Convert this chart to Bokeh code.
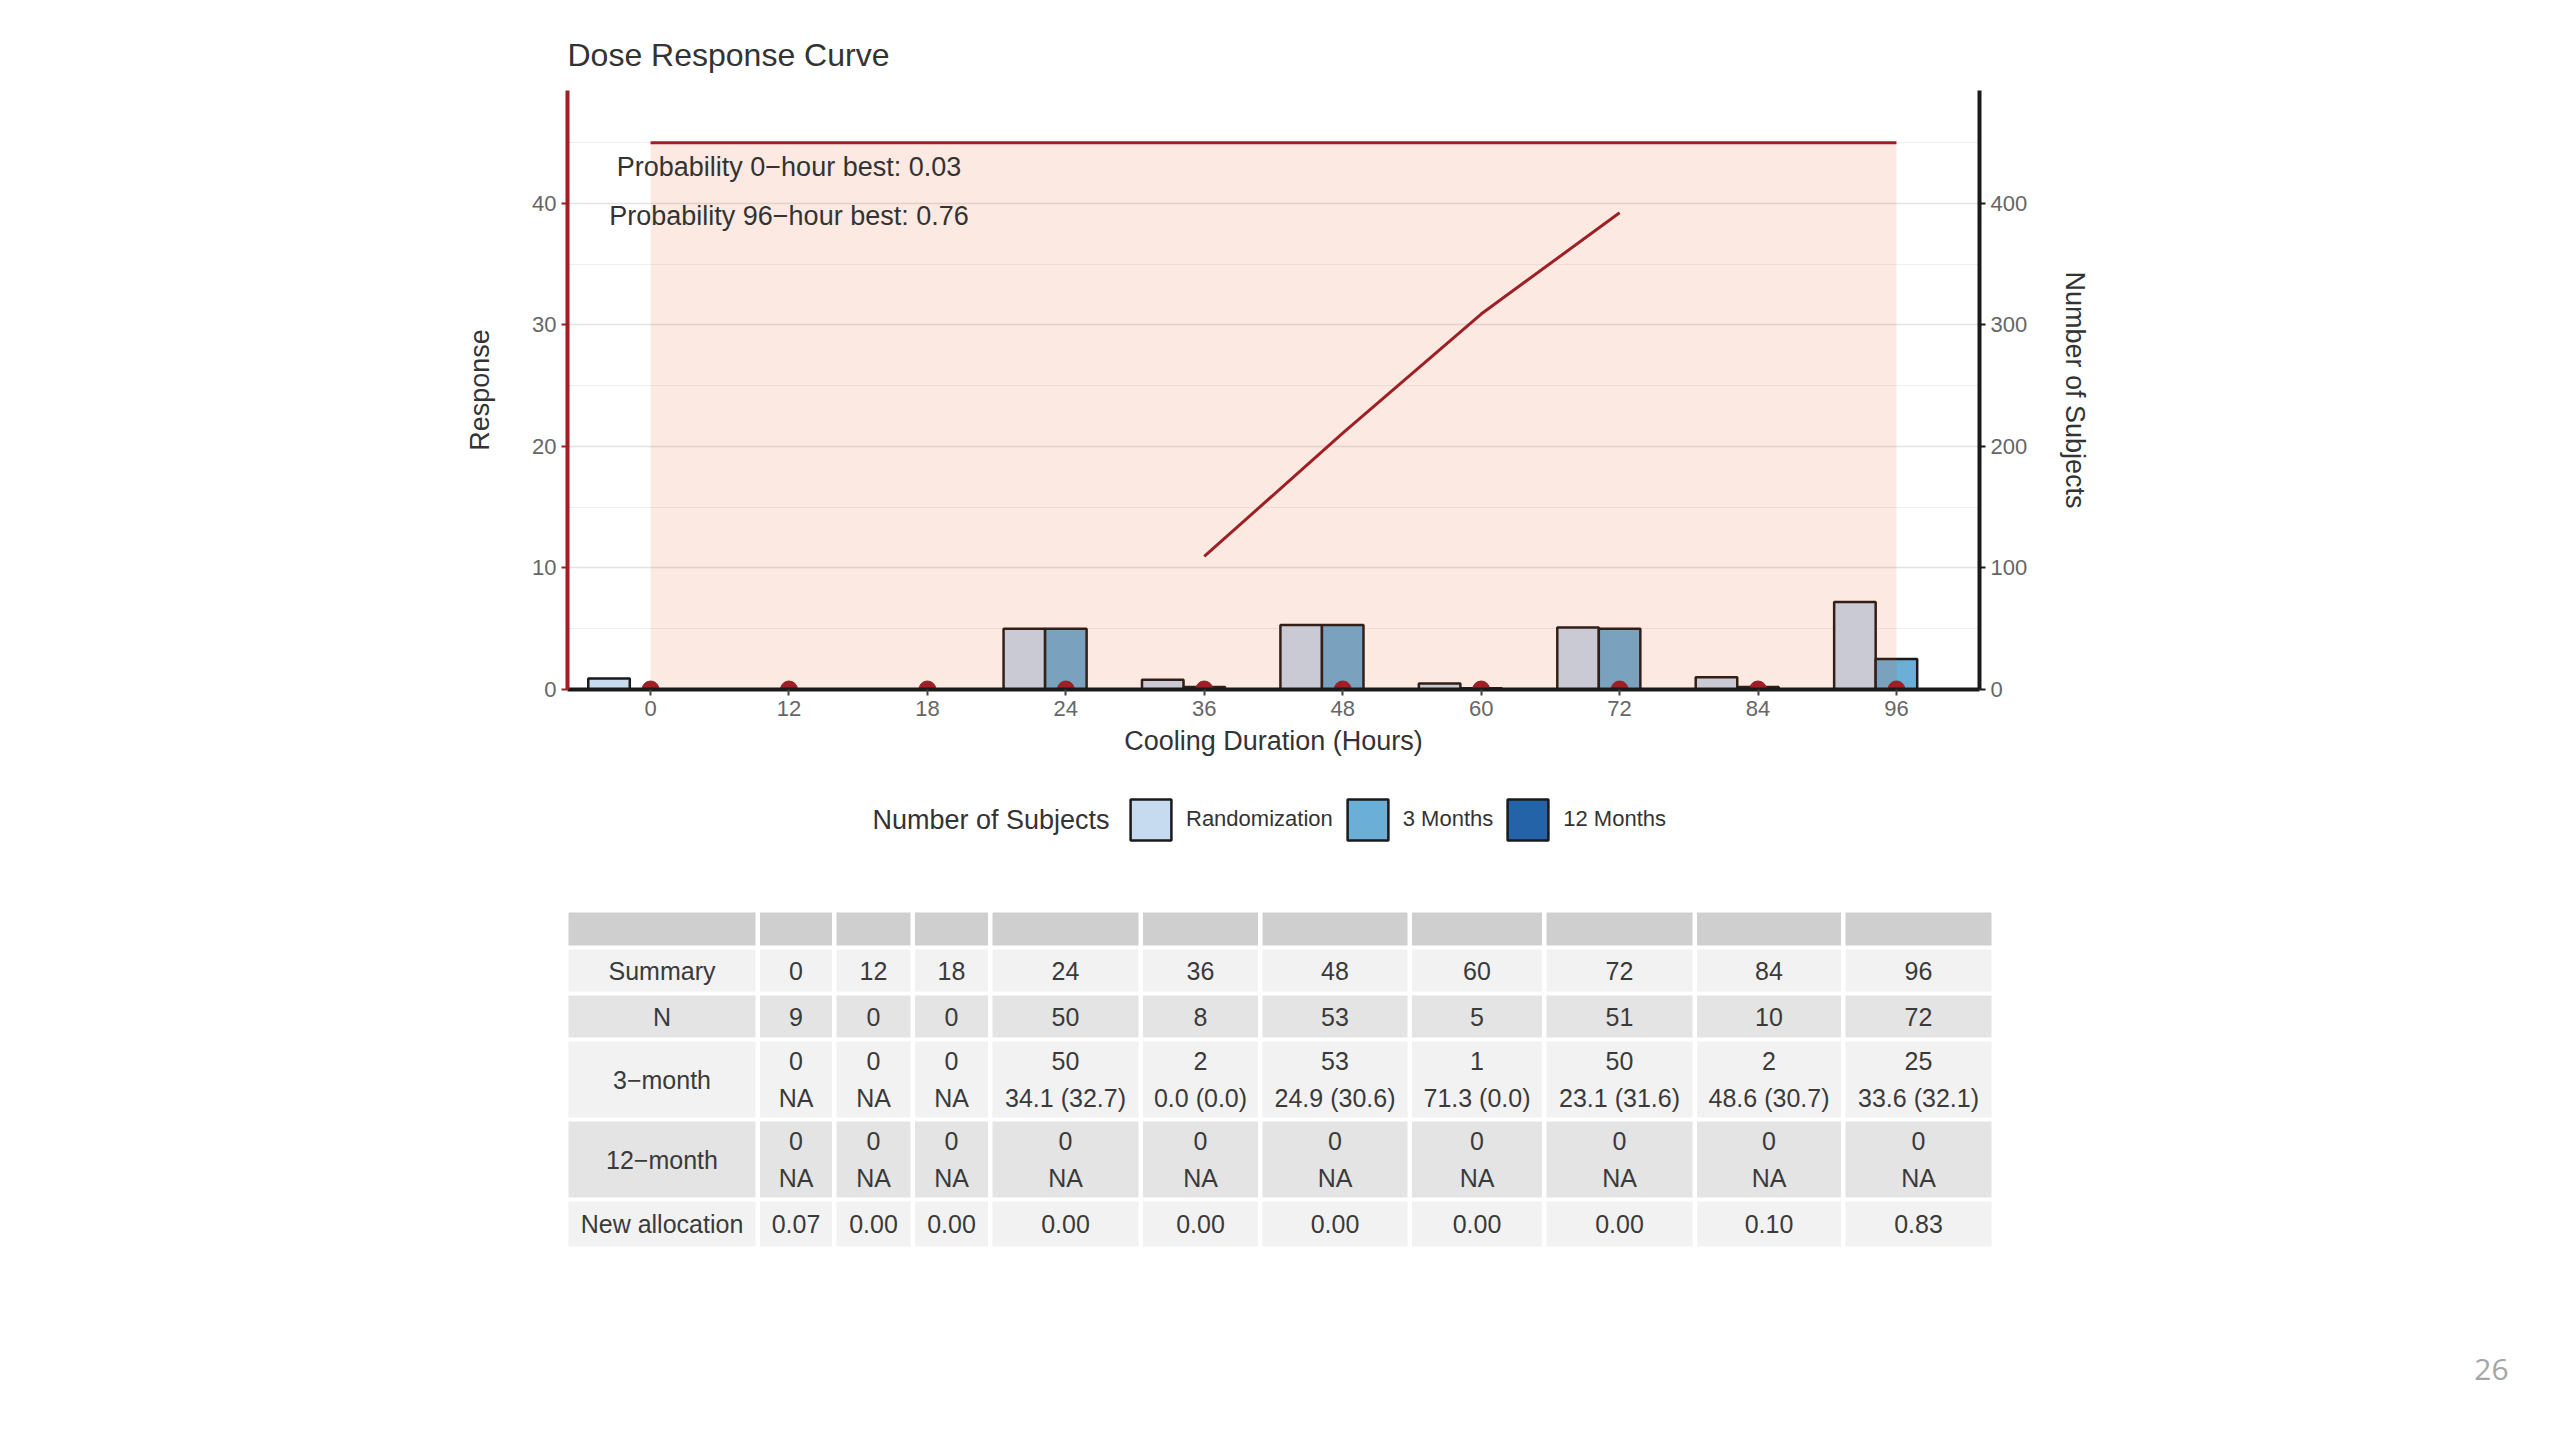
from bokeh.plotting import figure
from bokeh.models import Range1d, LinearAxis, FixedTicker, Legend, LegendItem
from bokeh.embed import file_html
from bokeh.resources import INLINE
from bokeh.core.properties import value

# ---------------- data ----------------
hours = [0, 12, 18, 24, 36, 48, 60, 72, 84, 96]
n_randomization = [9, 0, 0, 50, 8, 53, 5, 51, 10, 72]
n_3_months = [0, 0, 0, 50, 2, 53, 1, 50, 2, 25]
n_12_months = [0, 0, 0, 0, 0, 0, 0, 0, 0, 0]
curve_hours = [36, 48, 60, 72]
curve_response = [10.95, 21.1, 30.9, 39.24]
band_top = 45
prob_labels = ["Probability 0\u2212hour best: 0.03", "Probability 96\u2212hour best: 0.76"]
left_ticks = [0, 10, 20, 30, 40]
left_minor = [5, 15, 25, 35, 45]
right_ticks = [0, 100, 200, 300, 400]
legend_title = "Number of Subjects"
legend_labels = ["Randomization", "3 Months", "12 Months"]

row_labels = ["Summary", "N", "3\u2212month", "12\u2212month", "New allocation"]
mean_sd_3_month = ["NA", "NA", "NA", "34.1 (32.7)", "0.0 (0.0)", "24.9 (30.6)",
                   "71.3 (0.0)", "23.1 (31.6)", "48.6 (30.7)", "33.6 (32.1)"]
mean_sd_12_month = ["NA", "NA", "NA", "NA", "NA", "NA", "NA", "NA", "NA", "NA"]
new_allocation = ["0.07", "0.00", "0.00", "0.00", "0.00", "0.00", "0.00", "0.00", "0.10", "0.83"]
page_number = "26"

# ---------------- style ----------------
FONT = "Liberation Sans"
RED = "#9e1f24"
DARK = "#333333"
TICK = "#666666"
BAR_COLORS = ["#c6dbef", "#6baed6", "#2563a9"]
BAR_LINE = "#1a1a1a"

idx = list(range(len(hours)))
dodge = 0.3

P_H = 790
p = figure(width=2560, height=P_H, x_range=Range1d(-0.6, len(hours) - 0.4),
           y_range=Range1d(0, 49.3), output_backend="svg", toolbar_location=None,
           min_border_left=567, min_border_right=581, min_border_top=90,
           min_border_bottom=P_H - 689, outline_line_color=None)
p.extra_y_ranges = {"n": Range1d(0, 493)}

# grid
p.xgrid.visible = False
p.ygrid.ticker = FixedTicker(ticks=left_ticks, minor_ticks=left_minor)
p.ygrid.grid_line_color = "#e3e3e3"
p.ygrid.grid_line_width = 1.5
p.ygrid.minor_grid_line_color = "#efefef"
p.ygrid.minor_grid_line_width = 1

# bars
for k, (vals, col) in enumerate(zip([n_randomization, n_3_months, n_12_months], BAR_COLORS)):
    xs = [i + (k - 1) * dodge for i in idx]
    p.vbar(x=xs, top=vals, bottom=0, width=dodge, y_range_name="n",
           fill_color=col, line_color=BAR_LINE, line_width=2.5)

# shaded band over the dose range
p.quad(left=[idx[0]], right=[idx[-1]], bottom=[0], top=[band_top],
       fill_color="#e6550d", fill_alpha=0.12, line_color=None)
p.line(x=[idx[0], idx[-1]], y=[band_top, band_top], line_color=RED, line_width=3)

# dose response curve
cx = [hours.index(h) for h in curve_hours]
p.line(x=cx, y=curve_response, line_color=RED, line_width=3)

# points at zero
p.scatter(x=idx, y=[0] * len(idx), size=17, fill_color=RED, line_color=RED)

# probability annotations
ann_x = hours.index(12)
p.text(x=[ann_x, ann_x], y=[43.0, 38.95], text=prob_labels,
       text_font=value(FONT), text_font_size="27px", text_color=DARK,
       text_align="center", text_baseline="middle")


def style_axis(ax, line_color, standoff):
    ax.axis_line_color = line_color
    ax.axis_line_width = 4
    ax.major_tick_line_color = line_color
    ax.major_tick_line_width = 2
    ax.major_tick_out = 6
    ax.major_tick_in = 0
    ax.minor_tick_line_color = None
    ax.major_label_text_font = FONT
    ax.major_label_text_font_size = "22px"
    ax.major_label_text_color = TICK
    ax.major_label_standoff = 5
    ax.axis_label_text_font = FONT
    ax.axis_label_text_font_size = "27px"
    ax.axis_label_text_font_style = "normal"
    ax.axis_label_text_color = DARK
    ax.axis_label_standoff = standoff


xa = p.xaxis[0]
xa.ticker = FixedTicker(ticks=idx)
xa.major_label_overrides = {i: str(h) for i, h in zip(idx, hours)}
xa.axis_label = "Cooling Duration (Hours)"
style_axis(xa, BAR_LINE, 7)
xa.major_tick_line_color = "#444444"

ya = p.yaxis[0]
ya.ticker = FixedTicker(ticks=left_ticks)
ya.axis_label = "Response"
style_axis(ya, RED, 34)

ra = LinearAxis(y_range_name="n", ticker=FixedTicker(ticks=right_ticks),
                axis_label="Number of Subjects")
style_axis(ra, BAR_LINE, 30)
p.add_layout(ra, "right")

# title
p.title.text = "Dose Response Curve"
p.title.text_font = FONT
p.title.text_font_size = "32px"
p.title.text_font_style = "normal"
p.title.text_color = DARK
p.title.align = "left"
p.title.standoff = 36

# ---------------- legend + table (page-pixel coordinates) ----------------
T_TOP = P_H
T_BOT = 1430
t = figure(width=2560, height=T_BOT - T_TOP, x_range=Range1d(0, 2560),
           y_range=Range1d(T_BOT, T_TOP), output_backend="svg", toolbar_location=None,
           min_border=0, outline_line_color=None, x_axis_type=None, y_axis_type=None)
t.xgrid.visible = False
t.ygrid.visible = False

# legend keys: same styling as the bars above (no visible data of their own)
nan = float("nan")
keys = [t.vbar(x=[nan], top=[nan], bottom=[nan], width=0.3, fill_color=c,
               line_color=BAR_LINE, line_width=2.5)
        for c in BAR_COLORS]
legend = Legend(items=[LegendItem(label=l, renderers=[r], index=0)
                       for l, r in zip(legend_labels, keys)],
                orientation="horizontal", location=(1125, T_BOT - 844.5),
                glyph_width=51, glyph_height=51, label_standoff=10, spacing=9,
                padding=0, margin=0, border_line_color=None, background_fill_alpha=0,
                label_text_font=FONT, label_text_font_size="22px", label_text_color=DARK)
t.add_layout(legend)
t.text(x=[872], y=[819], text=[legend_title], text_font=value(FONT),
       text_font_size="27px", text_color=DARK, text_align="left", text_baseline="middle")

col_widths = [187, 72, 74, 73, 146, 115, 145, 130, 146, 144, 146]
col_gap = 4.5
table_left = 568
row_heights = [33, 42, 42, 76, 76, 45]
row_gap = 4
table_top = 912
row_fills = ["#cfcfcf", "#f2f2f2", "#e4e4e4", "#f2f2f2", "#e4e4e4", "#f2f2f2"]

lefts = []
x = table_left
for w in col_widths:
    lefts.append(x)
    x += w + col_gap
tops = []
y = table_top
for h in row_heights:
    tops.append(y)
    y += h + row_gap

ql, qr, qt, qb, qc = [], [], [], [], []
for ri, h in enumerate(row_heights):
    for ci, w in enumerate(col_widths):
        ql.append(lefts[ci]); qr.append(lefts[ci] + w)
        qt.append(tops[ri]); qb.append(tops[ri] + h)
        qc.append(row_fills[ri])
t.quad(left=ql, right=qr, top=qt, bottom=qb, fill_color=qc, line_color=None)

body = [
    [[str(h) for h in hours]],
    [[str(v) for v in n_randomization]],
    [[str(v) for v in n_3_months], mean_sd_3_month],
    [[str(v) for v in n_12_months], mean_sd_12_month],
    [new_allocation],
]
tx, ty, tt = [], [], []
line_sep = 37
for bi, lines in enumerate(body):
    ri = bi + 1
    cy = tops[ri] + row_heights[ri] / 2
    tx.append(lefts[0] + col_widths[0] / 2); ty.append(cy); tt.append(row_labels[bi])
    nl = len(lines)
    for li, vals in enumerate(lines):
        ly = cy + (li - (nl - 1) / 2) * line_sep
        for ci, v in enumerate(vals):
            tx.append(lefts[ci + 1] + col_widths[ci + 1] / 2); ty.append(ly); tt.append(v)
t.text(x=tx, y=ty, text=tt, text_font=value(FONT), text_font_size="25px",
       text_color="#3a3a3a", text_align="center", text_baseline="middle")

t.text(x=[2491], y=[1369], text=[page_number], text_font=value("Open Sans"),
       text_font_size="30px", text_color="#a6a6a6", text_align="center",
       text_baseline="middle")

open("out.html", "w").write(file_html([p, t], INLINE))
